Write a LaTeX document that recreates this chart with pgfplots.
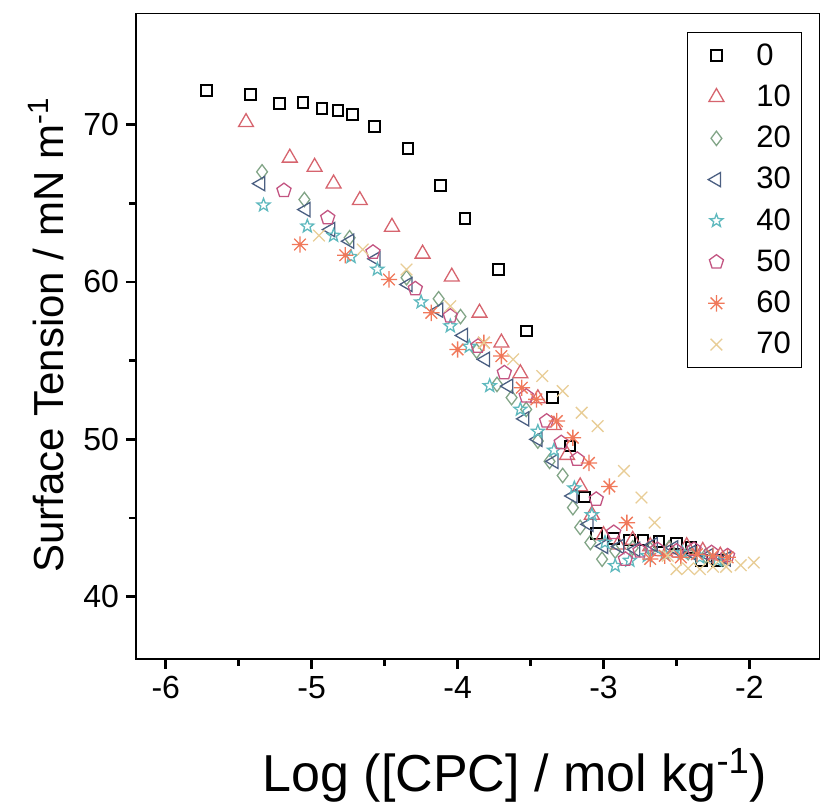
\documentclass[border=0pt]{standalone}
\usepackage{fontspec}
\setmainfont{Liberation Sans}
\usepackage{pgfplots}
\pgfplotsset{compat=1.18}
\definecolor{c10}{RGB}{214,100,110}
\definecolor{c20}{RGB}{130,165,135}
\definecolor{c30}{RGB}{75,95,130}
\definecolor{c40}{RGB}{95,185,190}
\definecolor{c50}{RGB}{195,85,130}
\definecolor{c60}{RGB}{240,120,90}
\definecolor{c70}{RGB}{232,205,150}
\pgfdeclareplotmark{ostar}{%
  \pgfpathmoveto{\pgfqpointpolar{90}{\pgfplotmarksize}}%
  \pgfpathlineto{\pgfqpointpolar{126}{0.42\pgfplotmarksize}}%
  \pgfpathlineto{\pgfqpointpolar{162}{\pgfplotmarksize}}%
  \pgfpathlineto{\pgfqpointpolar{198}{0.42\pgfplotmarksize}}%
  \pgfpathlineto{\pgfqpointpolar{234}{\pgfplotmarksize}}%
  \pgfpathlineto{\pgfqpointpolar{270}{0.42\pgfplotmarksize}}%
  \pgfpathlineto{\pgfqpointpolar{306}{\pgfplotmarksize}}%
  \pgfpathlineto{\pgfqpointpolar{342}{0.42\pgfplotmarksize}}%
  \pgfpathlineto{\pgfqpointpolar{18}{\pgfplotmarksize}}%
  \pgfpathlineto{\pgfqpointpolar{54}{0.42\pgfplotmarksize}}%
  \pgfpathclose
  \pgfusepathqstroke}
\pgfdeclareplotmark{ast8}{%
  \pgfpathmoveto{\pgfqpointpolar{0}{\pgfplotmarksize}}\pgfpathlineto{\pgfqpointpolar{180}{\pgfplotmarksize}}%
  \pgfpathmoveto{\pgfqpointpolar{45}{\pgfplotmarksize}}\pgfpathlineto{\pgfqpointpolar{225}{\pgfplotmarksize}}%
  \pgfpathmoveto{\pgfqpointpolar{90}{\pgfplotmarksize}}\pgfpathlineto{\pgfqpointpolar{270}{\pgfplotmarksize}}%
  \pgfpathmoveto{\pgfqpointpolar{135}{\pgfplotmarksize}}\pgfpathlineto{\pgfqpointpolar{315}{\pgfplotmarksize}}%
  \pgfusepathqstroke}
\begin{document}
\begin{tikzpicture}
\path[use as bounding box] (-68pt,-74pt) rectangle (342.5pt,329.5pt);
\begin{axis}[
  at={(0,0)}, anchor=south west,
  scale only axis, width=341.75pt, height=322.5pt,
  xmin=-6.204, xmax=-1.52, ymin=36.04, ymax=77.03,
  xtick={-6,-5,-4,-3,-2}, ytick={40,50,60,70},
  minor x tick num=1, minor y tick num=1,
  tick pos=left, tick align=outside,
  major tick length=5pt, minor tick length=3.5pt,
  every tick/.style={line width=1.3pt, black},
  axis line style={line width=0.5pt},
  /pgf/number format/assume math mode=true,
  tick label style={font=\fontsize{16}{19}\selectfont},
  xlabel={Log ([CPC] / mol kg\textsuperscript{-1})},
  ylabel={Surface Tension / mN m\textsuperscript{-1}},
  xlabel style={font=\fontsize{26}{30}\selectfont, at={(axis description cs:0.5545,-0.18)}, anchor=center},
  ylabel style={font=\fontsize{21}{25}\selectfont, at={(axis description cs:-0.1315,0.502)}, anchor=center},
  legend style={at={(axis description cs:0.975,0.972)}, anchor=north east, draw=black, line width=0.5pt,
    font=\fontsize{15.5}{18}\selectfont, row sep=4.3pt, inner sep=3.5pt, legend cell align=left},
  legend image code/.code={%
    \path[draw=none,fill=none] (0pt,0pt) -- (29pt,0pt);
    \draw[#1] plot[only marks] coordinates {(11pt,0pt)};},
  legend cell align=left,
  only marks,
  after end axis/.code={\draw[line width=1.3pt] (rel axis cs:0,1) -- (rel axis cs:0,0) -- (rel axis cs:1,0);},
]
\addplot[mark=square, mark size=2.7pt, black, line width=1pt] coordinates {
(-5.72,72.16) (-5.42,71.89) (-5.22,71.35) (-5.06,71.40) (-4.93,71.02) (-4.82,70.91) (-4.72,70.62)
(-4.57,69.89) (-4.34,68.50) (-4.12,66.15) (-3.95,64.05) (-3.72,60.77) (-3.53,56.88) (-3.35,52.65)
(-3.23,49.58) (-3.13,46.34) (-3.05,44.0) (-2.93,43.7) (-2.82,43.6) (-2.73,43.6) (-2.62,43.5)
(-2.50,43.4) (-2.40,43.1) (-2.33,42.3) (-2.22,42.3)};
\addlegendentry{0}
\addplot[mark=triangle, mark size=4.3pt, c10, line width=0.65pt] coordinates {
(-5.45,70.15) (-5.15,67.89) (-4.98,67.31) (-4.85,66.25) (-4.67,65.19) (-4.45,63.50) (-4.24,61.79)
(-4.04,60.33) (-3.85,58.04) (-3.70,56.14) (-3.57,54.19) (-3.45,52.6) (-3.34,50.9) (-3.25,49.0)
(-3.16,47.0) (-3.08,45.2) (-3.00,43.9) (-2.90,43.3) (-2.80,43.6) (-2.68,43.2) (-2.55,43.0)
(-2.43,43.2) (-2.32,42.9) (-2.20,42.6)};
\addlegendentry{10}
\addplot[mark=diamond, mark size=3.6pt, c20, line width=0.65pt] coordinates {
(-5.34,67.0) (-5.05,65.24) (-4.74,62.81) (-4.35,60.27) (-4.13,58.93) (-3.98,57.80) (-3.87,55.61)
(-3.73,53.49) (-3.63,52.65) (-3.53,51.9) (-3.45,49.89) (-3.37,48.6) (-3.28,47.7) (-3.21,45.66)
(-3.16,44.4) (-3.09,43.44) (-3.01,42.38) (-2.92,42.9) (-2.80,43.1) (-2.68,43.0) (-2.55,43.1)
(-2.42,42.8) (-2.30,42.6) (-2.18,42.4)};
\addlegendentry{20}
\addplot[mark=triangle, mark size=4.1pt, mark options={rotate=90}, c30, line width=0.65pt] coordinates {
(-5.35,66.25) (-5.04,64.6) (-4.87,63.33) (-4.74,62.59) (-4.56,61.47) (-4.34,59.84) (-4.13,58.21)
(-3.96,56.6) (-3.81,55.08) (-3.65,53.38) (-3.54,51.3) (-3.45,50.0) (-3.34,48.6) (-3.21,46.4)
(-3.10,44.6) (-3.00,43.2) (-2.89,43.2) (-2.78,43.0) (-2.66,43.3) (-2.52,43.1) (-2.40,42.8)
(-2.28,42.6) (-2.16,42.4)};
\addlegendentry{30}
\addplot[mark=ostar, mark size=3.4pt, c40, line width=0.65pt] coordinates {
(-5.33,64.88) (-5.03,63.54) (-4.85,62.95) (-4.73,61.6) (-4.55,60.8) (-4.25,58.72) (-4.05,57.2)
(-3.92,55.9) (-3.78,53.4) (-3.57,51.9) (-3.45,50.5) (-3.34,49.3) (-3.20,46.9) (-3.08,45.2)
(-2.99,43.44) (-2.92,41.96) (-2.82,42.3) (-2.70,42.6) (-2.58,42.7) (-2.46,42.8) (-2.34,42.5)
(-2.22,42.3)};
\addlegendentry{40}
\addplot[mark=pentagon, mark size=3.7pt, c50, line width=0.65pt] coordinates {
(-5.19,65.81) (-4.89,64.08) (-4.58,61.89) (-4.29,59.57) (-4.05,57.83) (-3.86,55.92) (-3.68,54.23)
(-3.53,52.75) (-3.39,51.16) (-3.29,49.79) (-3.18,48.73) (-3.05,46.19) (-2.93,44.08) (-2.85,42.38)
(-2.75,42.9) (-2.63,43.0) (-2.50,42.9) (-2.38,43.0) (-2.26,42.8) (-2.15,42.6)};
\addlegendentry{50}
\addplot[mark=ast8, mark size=4.1pt, c60, line width=0.65pt] coordinates {
(-5.08,62.38) (-4.77,61.7) (-4.47,60.16) (-4.18,58.04) (-4.00,55.71) (-3.82,56.14) (-3.70,55.29)
(-3.56,53.28) (-3.46,52.54) (-3.32,51.16) (-3.21,50.1) (-3.10,48.5) (-2.96,47.0) (-2.84,44.7)
(-2.68,42.4) (-2.58,42.6) (-2.47,42.5) (-2.36,42.7) (-2.25,42.6) (-2.15,42.5)};
\addlegendentry{60}
\addplot[mark=x, mark size=4.1pt, c70, line width=0.65pt] coordinates {
(-4.95,62.95) (-4.65,62.06) (-4.35,60.79) (-4.05,58.46) (-3.82,56.14) (-3.62,55.08) (-3.42,54.02)
(-3.28,53.07) (-3.15,51.69) (-3.04,50.84) (-2.86,47.99) (-2.74,46.3) (-2.65,44.71) (-2.56,42.6)
(-2.50,41.75) (-2.42,41.8) (-2.34,41.75) (-2.25,41.9) (-2.16,41.9) (-2.06,42.0) (-1.97,42.17)};
\addlegendentry{70}
\end{axis}
\end{tikzpicture}
\end{document}
